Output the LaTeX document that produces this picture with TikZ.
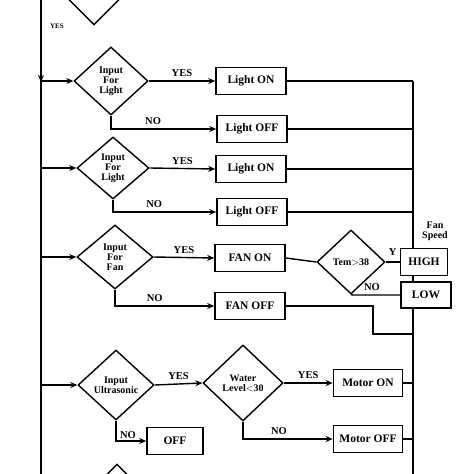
\documentclass[tikz,border=0pt]{standalone}
\usepackage{fontspec}
\setmainfont{Liberation Serif}
\usetikzlibrary{shapes.geometric,arrows.meta}
\tikzset{
  dec/.style={draw, diamond, line width=1.4pt, inner sep=0pt, align=center, font=\bfseries\fontsize{10}{10}\selectfont},
  box/.style={draw, rectangle, line width=1.6pt, minimum width=70pt, minimum height=27pt, inner sep=1pt, font=\bfseries\fontsize{11.5}{12}\selectfont},
  lbl/.style={font=\bfseries\fontsize{10.5}{11}\selectfont},
  ln/.style={line width=1.4pt},
  arr/.style={line width=1.4pt, -{Stealth[length=7pt,width=6pt]}}
}
\begin{document}
\begin{tikzpicture}[x=1pt, y=-1pt]
    \useasboundingbox (0,0) rectangle (474,474);
    \node[dec, minimum width=56pt, minimum height=56pt] (D0) at (94,-3) {};
    \node[dec, minimum width=74pt, minimum height=68pt] (D1) at (111,81) {Input\\For\\Light};
    \node[dec, minimum width=72pt, minimum height=62pt] (D2) at (113,168) {Input\\For\\Light};
    \node[dec, minimum width=76pt, minimum height=64pt] (D3) at (115,257) {Input\\For\\Fan};
    \node[dec, minimum width=68pt, minimum height=64pt] (T) at (351,262) {Tem$>$38};
    \node[dec, minimum width=76pt, minimum height=70pt] (U) at (116,385) {Input\\Ultrasonic};
    \node[dec, minimum width=80pt, minimum height=76pt] (W) at (243,383) {Water\\Level$<$30};
    \node[dec, minimum width=40pt, minimum height=40pt] (D6) at (117,484) {};

    \node[box] (L1) at (251,81) {Light ON};
    \node[box] (L2) at (252,129) {Light OFF};
    \node[box] (L3) at (251,169) {Light ON};
    \node[box] (L4) at (252,212) {Light OFF};
    \node[box] (F1) at (250,258) {FAN ON};
    \node[box] (F2) at (250,306) {FAN OFF};
    \node[box, minimum width=47pt, minimum height=27pt] (H) at (424,262) {HIGH};
    \node[box, minimum width=50pt, minimum height=26pt] (LO) at (426,295) {LOW};
    \node[box, minimum width=69pt] (M1) at (368,383) {Motor ON};
    \node[box, minimum width=69pt] (M2) at (368,439) {Motor OFF};
    \node[box, minimum width=56pt] (O) at (175,441) {OFF};

    \coordinate (top) at (41,0);
    \coordinate (bot) at (41,474);
    \coordinate (rt) at (413,81);
    \coordinate (rb) at (413,474);

    % main trunk on the left
    \draw[ln] (top) -- (bot);
    \draw[arr] (top) -- (41,82);
    \node[font=\bfseries\fontsize{7}{7}\selectfont] at (57,26) {YES};
    \draw[arr] (41,81) -- (D1.west);
    \draw[arr] (41,168) -- (D2.west);
    \draw[arr] (41,257) -- (D3.west);
    \draw[arr] (41,385) -- (U.west);

    % light branches
    \draw[arr] (D1.east) -- node[lbl, above] {YES} (L1.west);
    \draw[arr] (D1.south) |- node[lbl, above, pos=0.7] {NO} (L2.west);
    \draw[arr] (D2.east) -- node[lbl, above] {YES} (L3.west);
    \draw[arr] (D2.south) |- node[lbl, above, pos=0.7] {NO} (L4.west);

    % fan branch
    \draw[arr] (D3.east) -- node[lbl, above] {YES} (F1.west);
    \draw[arr] (D3.south) |- node[lbl, above, pos=0.7] {NO} (F2.west);
    \draw[ln] (F1.east) -- (T.west);
    \draw[ln] (T.east) -- node[lbl, above, yshift=2pt] {Y} (H.west);
    \draw[ln] (T.south) -- (353,295) -- node[lbl, above, pos=0.4] {NO} (LO.west);
    \draw[ln] (H.south -| 413,0) -- (LO.north -| 413,0);
    \node[lbl, align=center, font=\bfseries\fontsize{10}{10}\selectfont] at (435,231) {Fan\\Speed};
    \draw[ln] (F2.east) -- (373,306) -- (373,334) -- (413,334);

    % ultrasonic branch
    \draw[arr] (U.east) -- node[lbl, above] {YES} (W.west);
    \draw[arr] (W.east) -- node[lbl, above] {YES} (M1.west);
    \draw[arr] (W.south) |- node[lbl, above, pos=0.7] {NO} (M2.west);
    \draw[arr] (U.south) |- node[lbl, right, pos=0.35] {NO} (O.west);

    % right collector
    \draw[ln] (rt) -- (H.north -| rt);
    \draw[ln] (LO.south -| rt) -- (rb);
    \draw[ln] (L1.east) -- (rt);
    \draw[ln] (L2.east) -- (L2.east -| rt);
    \draw[ln] (L3.east) -- (L3.east -| rt);
    \draw[ln] (L4.east) -- (L4.east -| rt);
    \draw[ln] (M1.east) -- (M1.east -| rt);
    \draw[ln] (M2.east) -- (M2.east -| rt);
\end{tikzpicture}
\end{document}
